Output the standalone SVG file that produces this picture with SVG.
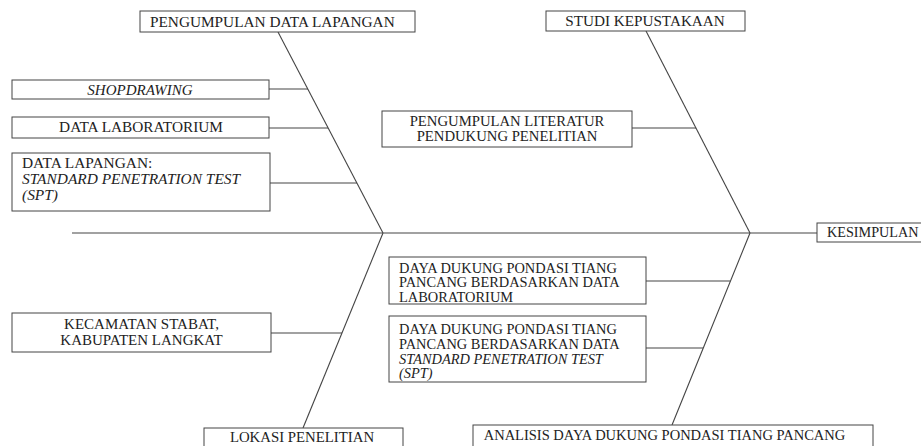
<svg xmlns="http://www.w3.org/2000/svg" width="921" height="446" viewBox="0 0 921 446">
<style>
.box{fill:#fff;stroke:#444;stroke-width:1}
.ln{stroke:#444;stroke-width:1.1;fill:none}
.t text{font-size:15px;fill:#222}
.c{text-anchor:middle}
.i{font-style:italic}
</style>
<rect width="921" height="446" fill="#fff"/>
<g id="connectors">
<line class="ln" x1="72" y1="233" x2="817" y2="233"/>
<line class="ln" x1="278" y1="32" x2="383" y2="233"/>
<line class="ln" x1="646" y1="31" x2="750" y2="233"/>
<line class="ln" x1="383" y1="233" x2="303" y2="428"/>
<line class="ln" x1="750" y1="233" x2="672" y2="425"/>
<line class="ln" x1="269" y1="89" x2="308" y2="89"/>
<line class="ln" x1="269" y1="128" x2="328" y2="128"/>
<line class="ln" x1="270" y1="183" x2="357" y2="183"/>
<line class="ln" x1="632" y1="128" x2="696" y2="128"/>
<line class="ln" x1="271" y1="333" x2="342" y2="333"/>
<line class="ln" x1="646" y1="281" x2="730" y2="281"/>
<line class="ln" x1="646" y1="348" x2="703" y2="348"/>
</g>
<g class="t" font-family="Liberation Serif, Times New Roman, DejaVu Serif, serif">
<g id="pengumpulan-data-lapangan">
<rect class="box" x="140" y="11" width="275" height="21"/>
<text x="150" y="27" style="font-size:15.3px">PENGUMPULAN DATA LAPANGAN</text>
</g>
<g id="studi-kepustakaan">
<rect class="box" x="546" y="11" width="199" height="20"/>
<text class="c" x="645" y="26" style="font-size:15.2px">STUDI KEPUSTAKAAN</text>
</g>
<g id="shopdrawing">
<rect class="box" x="12" y="80" width="257" height="19"/>
<text class="c i" x="140" y="95">SHOPDRAWING</text>
</g>
<g id="data-laboratorium">
<rect class="box" x="12" y="117" width="257" height="21"/>
<text class="c" x="141" y="132" style="font-size:15.3px">DATA LABORATORIUM</text>
</g>
<g id="data-lapangan">
<rect class="box" x="12" y="153" width="258" height="58"/>
<text x="22" y="168" style="font-size:15.4px">DATA LAPANGAN:<tspan class="i" x="22" y="184">STANDARD PENETRATION TEST</tspan><tspan class="i" x="22" y="200">(SPT)</tspan></text>
</g>
<g id="pengumpulan-literatur">
<rect class="box" x="382" y="111" width="250" height="36"/>
<text class="c" x="507" y="126" style="font-size:14.7px">PENGUMPULAN LITERATUR<tspan x="507" y="141">PENDUKUNG PENELITIAN</tspan></text>
</g>
<g id="kesimpulan">
<rect class="box" x="817" y="223" width="110" height="19"/>
<text x="827" y="237" style="font-size:14.2px">KESIMPULAN</text>
</g>
<g id="daya-dukung-lab">
<rect class="box" x="389" y="257" width="257" height="47"/>
<text x="399" y="272.5" style="font-size:14.4px">DAYA DUKUNG PONDASI TIANG<tspan x="399" y="287.3">PANCANG BERDASARKAN DATA</tspan><tspan x="399" y="302">LABORATORIUM</tspan></text>
</g>
<g id="daya-dukung-spt">
<rect class="box" x="389" y="316" width="257" height="66"/>
<text x="399" y="334" style="font-size:14.4px">DAYA DUKUNG PONDASI TIANG<tspan x="399" y="348.8">PANCANG BERDASARKAN DATA</tspan><tspan class="i" x="399" y="363.6">STANDARD PENETRATION TEST</tspan><tspan class="i" x="399" y="378.4">(SPT)</tspan></text>
</g>
<g id="kecamatan">
<rect class="box" x="12" y="313" width="259" height="39"/>
<text class="c" x="141.5" y="329">KECAMATAN STABAT,<tspan x="141.5" y="345">KABUPATEN LANGKAT</tspan></text>
</g>
<g id="lokasi-penelitian">
<rect class="box" x="204" y="428" width="199" height="25"/>
<text class="c" x="302" y="442" style="font-size:14.8px">LOKASI PENELITIAN</text>
</g>
<g id="analisis">
<rect class="box" x="473" y="425" width="400" height="28"/>
<text class="c" x="664.5" y="440" style="font-size:14.5px">ANALISIS DAYA DUKUNG PONDASI TIANG PANCANG</text>
</g>
</g>
</svg>
